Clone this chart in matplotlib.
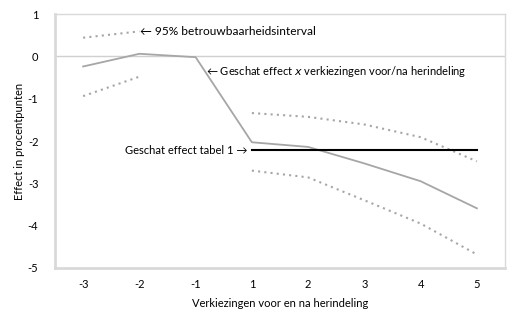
import matplotlib
matplotlib.use("Agg")
import matplotlib.pyplot as plt
import numpy as np

plt.rcParams['font.family'] = ['Lato', 'DejaVu Sans']

# Elections before / after municipal redivision
categories = ["-3", "-2", "-1", "1", "2", "3", "4", "5"]
effect = [-0.24, 0.06, -0.02, -2.03, -2.14, -2.53, -2.95, -3.59]
ci_upper = [0.44, 0.59, np.nan, -1.34, -1.43, -1.61, -1.91, -2.48]
ci_lower = [-0.94, -0.48, np.nan, -2.70, -2.86, -3.40, -3.95, -4.68]
table1_effect = -2.22
table1_span = ["1", "5"]
yticks = [1, 0, -1, -2, -3, -4, -5]

x = np.arange(len(categories))

fig = plt.figure(figsize=(5.2, 3.26), dpi=100)
ax = fig.add_axes([55 / 520, 1 - 268 / 326, 450 / 520, 254 / 326])

gray = "#a6a6a6"
ax.axhline(0, color="#d0d0d0", lw=1.0, zorder=1)
ax.plot(x, effect, color=gray, lw=1.3, zorder=3)
ax.plot(x, ci_upper, color=gray, lw=1.5, ls=(0, (1, 2.0)), zorder=3)
ax.plot(x, ci_lower, color=gray, lw=1.5, ls=(0, (1, 2.0)), zorder=3)

i0, i1 = categories.index(table1_span[0]), categories.index(table1_span[1])
ax.plot([x[i0], x[i1]], [table1_effect, table1_effect], color="black", lw=1.5, zorder=4)

ax.set_xlim(-0.5, len(categories) - 0.5)
ax.set_ylim(-5, 1)
ax.set_xticks(x)
ax.set_xticklabels(categories)
ax.set_yticks(yticks)
ax.set_yticklabels([str(v) for v in yticks])
ax.tick_params(length=0, labelsize=8, pad=8)
ax.tick_params(axis="y", pad=12)

for s in ax.spines.values():
    s.set_color("#d9d9d9")
    s.set_linewidth(1.0)
ax.spines["left"].set_linewidth(2.0)
ax.spines["bottom"].set_linewidth(2.0)

ax.set_xlabel("Verkiezingen voor en na herindeling", fontsize=8, labelpad=6)
ax.set_ylabel("Effect in procentpunten", fontsize=8)
ax.yaxis.set_label_coords(-30 / 450, 0.5)

fs = 8
ax.text(x[1] + 0.02, 0.59, "\u2190 95% betrouwbaarheidsinterval", fontsize=8.6,
        va="center", ha="left")
ax.text(x[2] + 0.18, -0.35, "\u2190 Geschat effect $\\it{x}$ verkiezingen voor/na herindeling",
        fontsize=fs, va="center", ha="left")
ax.text(x[i0] - 0.08, table1_effect, "Geschat effect tabel 1 \u2192", fontsize=fs,
        va="center", ha="right")

fig.savefig("out.png", dpi=100)
